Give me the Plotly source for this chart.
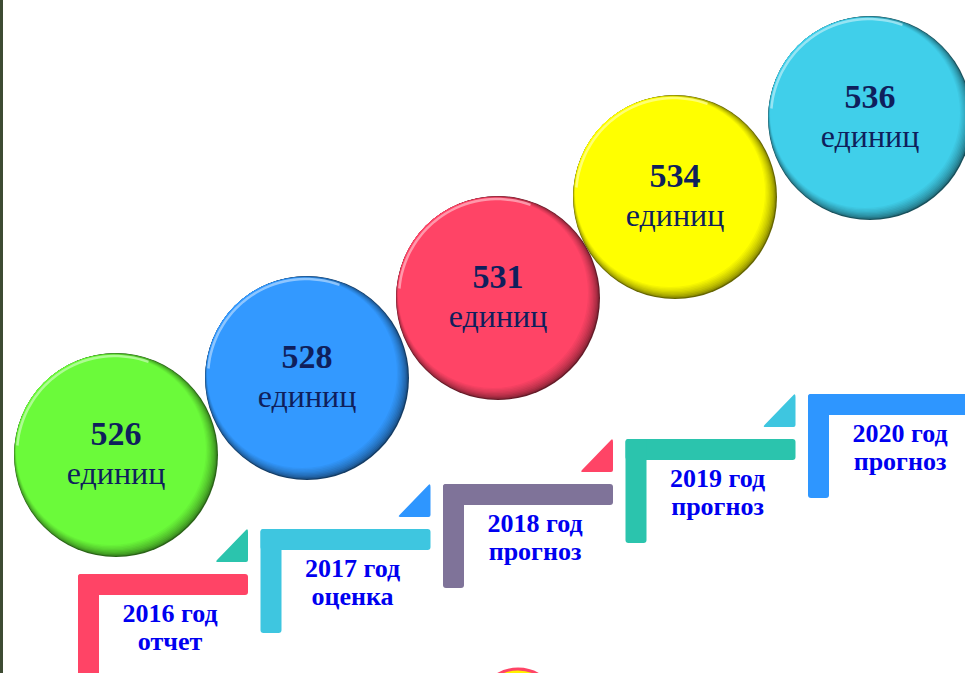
import math
import plotly.graph_objects as go

# data
years = ["2016", "2017", "2018", "2019", "2020"]
statuses = ["отчет", "оценка", "прогноз", "прогноз", "прогноз"]
values = [526, 528, 531, 534, 536]
unit = "единиц"

# layout (pixel positions of the balls and steps)
W, H = 965, 673
circle_x = [116, 307, 498, 675, 870]
circle_y = [455, 378, 298, 197, 118]
R = 102
circle_colors = ["#6BFA3A", "#3399FF", "#FF4466", "#FFFF00", "#40CFEA"]
step_colors = ["#FF4466", "#3EC6E0", "#7F7399", "#2BC4AD", "#2E96FF"]
step_left0, step_dx = 78, 182.5
step_top0, step_dy = 574, 45
bar_len, bar_w, leg_len, tri = 170, 21, 104, 33

NAVY = "#0F1F5C"
BLUE = "#0000F0"
SERIF = "Liberation Serif, Times New Roman, serif"


def hex_rgb(c):
    c = c.lstrip("#")
    return tuple(int(c[i:i + 2], 16) for i in (0, 2, 4))


def mix(c1, c2, t):
    a, b = hex_rgb(c1), hex_rgb(c2)
    return "rgb(%d,%d,%d)" % tuple(round(a[i] + (b[i] - a[i]) * t) for i in range(3))


def dark(c, f):
    r, g, b = hex_rgb(c)
    return "#%02x%02x%02x" % (int(r * f), int(g * f), int(b * f))


def rrect(x0, y0, x1, y1, r=3):
    return (f"M{x0+r},{y0} L{x1-r},{y0} Q{x1},{y0} {x1},{y0+r} L{x1},{y1-r} "
            f"Q{x1},{y1} {x1-r},{y1} L{x0+r},{y1} Q{x0},{y1} {x0},{y1-r} "
            f"L{x0},{y0+r} Q{x0},{y0} {x0+r},{y0} Z")


shapes = []

# thin dark frame line on the left
shapes.append(dict(type="rect", x0=0, x1=3, y0=0, y1=H, line_width=0,
                   fillcolor="#3D4B33", layer="below"))

# steps
for i in range(len(years)):
    x0 = step_left0 + i * step_dx
    y0 = step_top0 - i * step_dy
    col = step_colors[i]
    shapes.append(dict(type="path", path=rrect(x0, y0, x0 + bar_len, y0 + bar_w),
                       fillcolor=col, line_width=0, layer="below"))
    shapes.append(dict(type="path", path=rrect(x0, y0, x0 + bar_w, y0 + leg_len),
                       fillcolor=col, line_width=0, layer="below"))
    if i < len(years) - 1:
        xr = x0 + bar_len
        yb = y0 - 12
        tcol = step_colors[(i + 3) % 5]
        shapes.append(dict(type="path",
                           path=f"M{xr-2},{yb-tri+1} Q{xr},{yb-tri-1} {xr},{yb-tri+3} L{xr},{yb-2} "
                                f"Q{xr},{yb} {xr-2},{yb} L{xr-tri+3},{yb} Q{xr-tri},{yb} {xr-tri+2},{yb-2} Z",
                           fillcolor=tcol, line_width=0, layer="below"))

# small partly visible ball at the bottom
shapes.append(dict(type="circle", x0=518 - 40, x1=518 + 40, y0=669, y1=749,
                   fillcolor="#FFF200", line=dict(color="#FF4466", width=3), layer="below"))

# balls with a bevelled look
n = 9
for i in range(len(values)):
    cx, cy, col = circle_x[i], circle_y[i], circle_colors[i]
    d = dark(col, 0.4)
    for k in range(n + 1):
        t = k / n
        r = R - 7 * t
        s = 5 * t
        fill = mix(d, col, t ** 0.55)
        shapes.append(dict(type="circle", x0=cx - s - r, x1=cx - s + r,
                           y0=cy - s - r, y1=cy - s + r,
                           fillcolor=fill, line_width=0, layer="below"))
    # light rim on the upper left
    pts = []
    for a in range(70, 176, 3):
        th = math.radians(a)
        rr = R - 4
        pts.append((cx - 1 + rr * math.cos(th), cy - 1 - rr * math.sin(th)))
    path = "M" + " L".join(f"{x:.1f},{y:.1f}" for x, y in pts)
    shapes.append(dict(type="path", path=path, layer="below",
                       line=dict(color=mix(col, "#FFFFFF", 0.6), width=2.5), opacity=0.75))

fig = go.Figure()

fig.add_trace(go.Scatter(
    x=circle_x, y=[y - 19 for y in circle_y], mode="text",
    text=[f"<b>{v}</b>" for v in values],
    textfont=dict(family=SERIF, size=34, color=NAVY),
    hoverinfo="skip", showlegend=False))
fig.add_trace(go.Scatter(
    x=circle_x, y=[y + 21 for y in circle_y], mode="text",
    text=[unit] * len(values),
    textfont=dict(family=SERIF, size=32, color=NAVY),
    hoverinfo="skip", showlegend=False))

lab_x = [step_left0 + i * step_dx + 92 for i in range(len(years))]
lab_y = [step_top0 - i * step_dy + 41 for i in range(len(years))]
fig.add_trace(go.Scatter(
    x=lab_x, y=lab_y, mode="text",
    text=[f"<b>{y} год</b>" for y in years],
    textfont=dict(family=SERIF, size=26, color=BLUE),
    hoverinfo="skip", showlegend=False))
fig.add_trace(go.Scatter(
    x=lab_x, y=[y + 28 for y in lab_y], mode="text",
    text=[f"<b>{s}</b>" for s in statuses],
    textfont=dict(family=SERIF, size=26, color=BLUE),
    hoverinfo="skip", showlegend=False))

fig.update_layout(
    width=W, height=H,
    margin=dict(l=0, r=0, t=0, b=0),
    paper_bgcolor="white", plot_bgcolor="white",
    shapes=shapes,
    xaxis=dict(range=[0, W], visible=False, fixedrange=True),
    yaxis=dict(range=[H, 0], visible=False, fixedrange=True),
)

fig.write_html("out.html", config={"displayModeBar": False},
               post_script="document.body.style.margin='0';document.body.style.overflow='hidden';")
